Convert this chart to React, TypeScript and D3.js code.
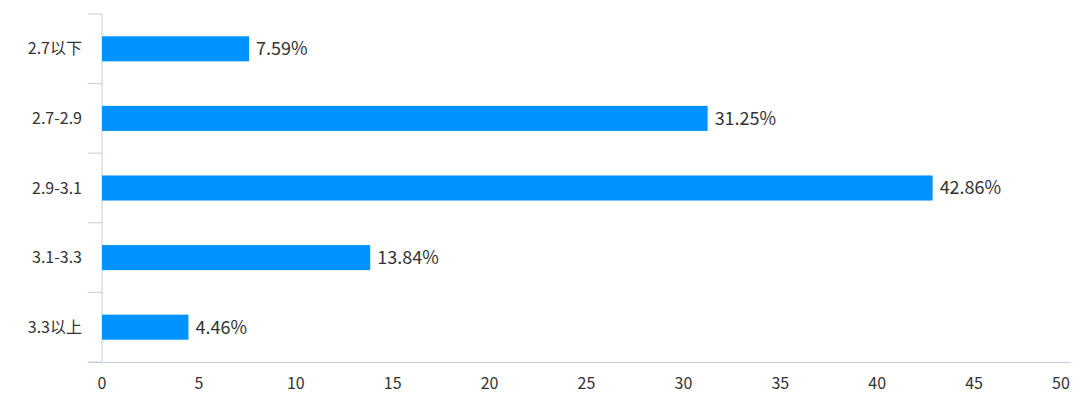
import React from 'react';
import * as d3 from 'd3';

const categories = ['2.7以下', '2.7-2.9', '2.9-3.1', '3.1-3.3', '3.3以上'];
const values = [7.59, 31.25, 42.86, 13.84, 4.46];
const xTicks = [0, 5, 10, 15, 20, 25, 30, 35, 40, 45, 50];

const width = 1080;
const height = 398;
const margin = { top: 14, right: 9, bottom: 36, left: 102 };
const font = '"Noto Sans CJK SC", "Noto Sans", sans-serif';
const axisColor = '#c2cfe0';
const textColor = '#333';
const barColor = '#0092ff';

export default function App() {
  const x = d3.scaleLinear().domain([0, 50]).range([margin.left, width - margin.right]);
  const y = d3
    .scaleBand<string>()
    .domain(categories)
    .range([margin.top, height - margin.bottom])
    .paddingInner(0.64)
    .paddingOuter(0.32);
  const step = y.step();
  const bandTop = (c: string) => (y(c) as number) - step * 0.32;
  const y0 = margin.top;
  const y1 = height - margin.bottom;

  return (
    <svg width={width} height={height} style={{ position: 'absolute', left: 0, top: 0, fontFamily: font }}>
      {/* y axis */}
      <line x1={x(0)} x2={x(0)} y1={y0} y2={y1} stroke={axisColor} />
      {categories.map((c) => (
        <line key={'t' + c} x1={x(0) - 14} x2={x(0)} y1={bandTop(c)} y2={bandTop(c)} stroke={axisColor} />
      ))}
      <line x1={x(0) - 14} x2={x(0)} y1={y0 + step * 5} y2={y0 + step * 5} stroke={axisColor} />
      {/* x axis */}
      <line x1={x(0) - 14} x2={x(50)} y1={y1 + 0.5} y2={y1 + 0.5} stroke={axisColor} />
      {xTicks.map((t) => (
        <text
          key={t}
          x={t === 50 ? x(t) - 10 : x(t)}
          y={y1 + 27}
          textAnchor="middle"
          fontSize={16}
          fill={textColor}
        >
          {t}
        </text>
      ))}
      {categories.map((c, i) => {
        const cy = (y(c) as number) + y.bandwidth() / 2;
        return (
          <g key={c}>
            <text x={x(0) - 20} y={cy} dy="0.35em" textAnchor="end" fontSize={16} fill={textColor}>
              {c}
            </text>
            <rect x={x(0)} y={y(c)} width={x(values[i]) - x(0)} height={y.bandwidth()} fill={barColor} />
            <text x={x(values[i]) + 7} y={cy} dy="0.35em" fontSize={18} fill={textColor}>
              {values[i].toFixed(2)}%
            </text>
          </g>
        );
      })}
    </svg>
  );
}
